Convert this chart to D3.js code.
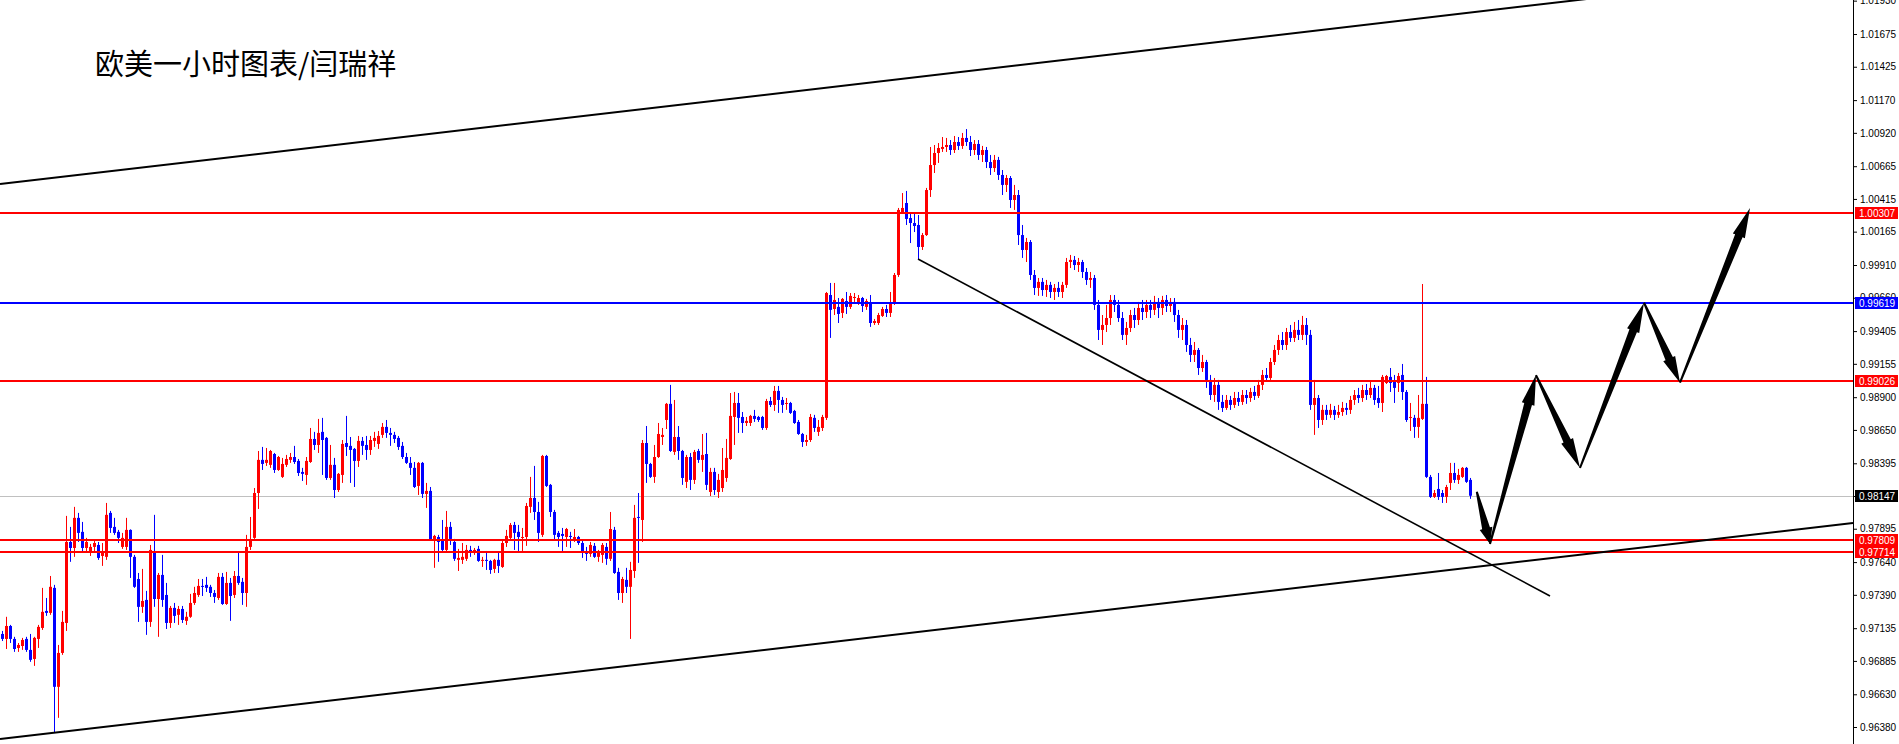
<!DOCTYPE html>
<html><head><meta charset="utf-8">
<script src="https://cdn.jsdelivr.net/npm/d3@7"></script>
<style>html,body{margin:0;padding:0;background:#fff;overflow:hidden}</style>
</head><body>
<svg id="c" width="1899" height="744"></svg>
<script>
const title = "欧美一小时图表/闫瑞祥";

const opens = [
0.97091,0.97053,0.97152,0.97053,0.96984,0.96999,0.97053,0.96969,0.96900,0.97053,
0.97137,0.97267,0.97252,0.97443,0.96687,0.96946,0.97175,0.97794,0.97748,0.97978,
0.97871,0.97748,0.97718,0.97756,0.97771,0.97687,0.97680,0.98016,0.97909,0.97871,
0.97756,0.97756,0.97886,0.97680,0.97511,0.97298,0.97351,0.97183,0.97725,0.97358,
0.97542,0.97389,0.97175,0.97290,0.97237,0.97282,0.97191,0.97222,0.97328,0.97389,
0.97458,0.97466,0.97451,0.97404,0.97366,0.97527,0.97320,0.97481,0.97389,0.97534,
0.97489,0.97404,0.97756,0.97825,0.98168,0.98421,0.98398,0.98383,0.98466,0.98344,
0.98291,0.98383,0.98421,0.98443,0.98413,0.98329,0.98306,0.98405,0.98581,0.98535,
0.98635,0.98589,0.98283,0.98383,0.98191,0.98306,0.98550,0.98528,0.98505,0.98413,
0.98566,0.98535,0.98497,0.98566,0.98543,0.98612,0.98673,0.98627,0.98612,0.98589,
0.98528,0.98443,0.98398,0.98360,0.98222,0.98398,0.98161,0.98184,0.97809,0.97832,
0.97802,0.97733,0.97909,0.97794,0.97657,0.97657,0.97665,0.97733,0.97710,0.97741,
0.97649,0.97657,0.97649,0.97588,0.97657,0.97603,0.97786,0.97825,0.97924,0.97871,
0.97825,0.97832,0.98062,0.98130,0.98023,0.97848,0.98451,0.98230,0.98023,0.97863,
0.97855,0.97832,0.97840,0.97809,0.97832,0.97786,0.97725,0.97703,0.97764,0.97680,
0.97695,0.97756,0.97665,0.97886,0.97565,0.97404,0.97504,0.97451,0.97572,0.97985,
0.97962,0.98550,0.98390,0.98291,0.98443,0.98596,0.98726,0.98849,0.98482,0.98596,
0.98489,0.98253,0.98443,0.98268,0.98489,0.98421,0.98466,0.98176,0.98329,0.98176,
0.98206,0.98283,0.98428,0.98749,0.98856,0.98749,0.98703,0.98703,0.98757,0.98749,
0.98749,0.98665,0.98871,0.98841,0.98948,0.98879,0.98849,0.98856,0.98795,0.98711,
0.98619,0.98558,0.98573,0.98742,0.98635,0.98665,0.98742,0.99681,0.99574,0.99590,
0.99544,0.99635,0.99590,0.99658,0.99620,0.99658,0.99590,0.99620,0.99467,0.99467,
0.99521,0.99574,0.99544,0.99620,0.99834,1.00315,1.00384,1.00269,1.00231,1.00216,
1.00048,1.00139,1.00483,1.00674,1.00766,1.00797,1.00812,1.00827,1.00789,1.00850,
1.00820,1.00881,1.00850,1.00789,1.00835,1.00751,1.00789,1.00697,1.00651,1.00713,
1.00598,1.00522,1.00575,1.00407,1.00445,1.00139,1.00025,1.00086,0.99834,0.99735,
0.99781,0.99719,0.99758,0.99704,0.99735,0.99704,0.99758,0.99933,0.99949,0.99910,
0.99933,0.99857,0.99796,0.99811,0.99605,0.99414,0.99452,0.99505,0.99643,0.99605,
0.99505,0.99376,0.99429,0.99528,0.99490,0.99582,0.99551,0.99605,0.99567,0.99628,
0.99582,0.99643,0.99597,0.99628,0.99528,0.99414,0.99452,0.99299,0.99223,0.99261,
0.99123,0.99169,0.99032,0.98917,0.98994,0.98864,0.98818,0.98879,0.98841,0.98894,
0.98864,0.98917,0.98894,0.98940,0.98910,0.98994,0.99070,0.99047,0.99169,0.99261,
0.99337,0.99299,0.99398,0.99353,0.99414,0.99376,0.99452,0.99376,0.98841,0.98894,
0.98726,0.98803,0.98765,0.98803,0.98765,0.98787,0.98818,0.98803,0.98879,0.98917,
0.98894,0.98955,0.98917,0.98971,0.98894,0.98856,0.99009,0.99055,0.99017,0.99009,
0.99070,0.98940,0.98742,0.98742,0.98673,0.98734,0.98849,0.98291,0.98138,0.98199,
0.98168,0.98138,0.98245,0.98321,0.98268,0.98291,0.98360,0.98268];

const highs = [
0.97114,0.97222,0.97160,0.97069,0.97022,0.97061,0.97069,0.97091,0.97069,0.97160,
0.97443,0.97366,0.97534,0.97466,0.97007,0.97267,0.97993,0.97909,0.98062,0.98016,
0.97947,0.97825,0.97779,0.97809,0.97794,0.97786,0.98092,0.98031,0.97978,0.97886,
0.97863,0.97978,0.97890,0.97695,0.97557,0.97588,0.97420,0.97771,0.98001,0.97557,
0.97695,0.97481,0.97305,0.97328,0.97305,0.97305,0.97260,0.97397,0.97451,0.97511,
0.97511,0.97527,0.97466,0.97427,0.97557,0.97557,0.97565,0.97519,0.97572,0.97718,
0.97519,0.97848,0.97985,0.98206,0.98489,0.98520,0.98512,0.98497,0.98474,0.98451,
0.98436,0.98459,0.98474,0.98528,0.98428,0.98360,0.98443,0.98665,0.98635,0.98734,
0.98742,0.98596,0.98535,0.98436,0.98321,0.98573,0.98757,0.98596,0.98512,0.98604,
0.98596,0.98604,0.98604,0.98635,0.98642,0.98703,0.98726,0.98665,0.98635,0.98604,
0.98558,0.98474,0.98443,0.98405,0.98405,0.98405,0.98245,0.98214,0.97848,0.97848,
0.97962,0.98031,0.97947,0.97817,0.97741,0.97786,0.97771,0.97764,0.97748,0.97764,
0.97680,0.97725,0.97657,0.97665,0.97710,0.97809,0.97886,0.97939,0.97947,0.97924,
0.97901,0.98092,0.98291,0.98375,0.98100,0.98459,0.98459,0.98237,0.98039,0.97878,
0.97901,0.97901,0.97871,0.97893,0.97840,0.97802,0.97756,0.97794,0.97786,0.97733,
0.97786,0.97786,0.98023,0.97909,0.97596,0.97527,0.97596,0.97642,0.98077,0.98168,
0.98573,0.98680,0.98398,0.98535,0.98703,0.98665,0.98856,0.98994,0.98879,0.98680,
0.98497,0.98459,0.98474,0.98497,0.98505,0.98619,0.98627,0.98360,0.98360,0.98314,
0.98512,0.98581,0.98932,0.98940,0.98932,0.98787,0.98749,0.98765,0.98803,0.98757,
0.98757,0.98887,0.98902,0.98986,0.98986,0.98902,0.98894,0.98864,0.98803,0.98726,
0.98627,0.98612,0.98772,0.98765,0.98726,0.98765,0.99704,0.99773,0.99773,0.99658,
0.99658,0.99704,0.99696,0.99696,0.99681,0.99666,0.99651,0.99681,0.99498,0.99544,
0.99590,0.99605,0.99704,0.99849,1.00346,1.00460,1.00476,1.00308,1.00308,1.00292,
1.00155,1.00499,1.00812,1.00827,1.00842,1.00888,1.00881,1.00865,1.00896,1.00888,
1.00919,1.00949,1.00896,1.00865,1.00865,1.00820,1.00812,1.00751,1.00751,1.00736,
1.00636,1.00598,1.00590,1.00522,1.00483,1.00216,1.00117,1.00101,0.99872,0.99811,
0.99811,0.99796,0.99781,0.99765,0.99781,0.99781,0.99964,0.99987,0.99979,0.99964,
0.99949,0.99887,0.99857,0.99834,0.99643,0.99528,0.99605,0.99681,0.99681,0.99643,
0.99551,0.99475,0.99567,0.99582,0.99628,0.99643,0.99643,0.99643,0.99674,0.99658,
0.99674,0.99681,0.99658,0.99658,0.99567,0.99505,0.99490,0.99353,0.99322,0.99276,
0.99223,0.99185,0.99070,0.99047,0.99032,0.98917,0.98917,0.98910,0.98940,0.98940,
0.98955,0.98955,0.98971,0.98986,0.99032,0.99108,0.99123,0.99200,0.99299,0.99376,
0.99398,0.99429,0.99452,0.99475,0.99490,0.99521,0.99505,0.99414,0.99032,0.98917,
0.98841,0.98841,0.98849,0.98833,0.98841,0.98864,0.98856,0.98910,0.98955,0.98971,
0.98994,0.99001,0.99017,0.98994,0.98986,0.99070,0.99070,0.99123,0.99070,0.99085,
0.99154,0.98955,0.98856,0.98765,0.98917,0.99765,0.99055,0.98306,0.98191,0.98321,
0.98191,0.98230,0.98398,0.98398,0.98352,0.98367,0.98367,0.98283];

const lows = [
0.97037,0.96976,0.97022,0.96954,0.96954,0.96969,0.96954,0.96878,0.96847,0.96984,
0.97122,0.97229,0.97237,0.96335,0.96450,0.96931,0.97114,0.97642,0.97680,0.97794,
0.97710,0.97718,0.97687,0.97710,0.97657,0.97611,0.97657,0.97863,0.97848,0.97786,
0.97741,0.97733,0.97519,0.97443,0.97183,0.97252,0.97084,0.97145,0.97298,0.97069,
0.97298,0.97129,0.97137,0.97175,0.97160,0.97175,0.97160,0.97214,0.97313,0.97374,
0.97381,0.97412,0.97374,0.97328,0.97351,0.97313,0.97313,0.97191,0.97366,0.97466,
0.97313,0.97298,0.97733,0.97817,0.98046,0.98344,0.98375,0.98360,0.98321,0.98337,
0.98283,0.98367,0.98398,0.98390,0.98298,0.98260,0.98230,0.98398,0.98497,0.98474,
0.98306,0.98268,0.98268,0.98130,0.98176,0.98245,0.98451,0.98245,0.98214,0.98367,
0.98459,0.98421,0.98459,0.98520,0.98505,0.98589,0.98589,0.98528,0.98550,0.98497,
0.98428,0.98390,0.98306,0.98206,0.98153,0.98130,0.98054,0.97802,0.97596,0.97642,
0.97718,0.97718,0.97771,0.97649,0.97572,0.97626,0.97649,0.97680,0.97695,0.97642,
0.97603,0.97580,0.97550,0.97557,0.97557,0.97596,0.97756,0.97809,0.97733,0.97718,
0.97725,0.97764,0.98016,0.97962,0.97794,0.97832,0.98214,0.97985,0.97809,0.97756,
0.97718,0.97756,0.97748,0.97794,0.97771,0.97672,0.97649,0.97680,0.97672,0.97642,
0.97634,0.97619,0.97649,0.97550,0.97351,0.97328,0.97404,0.97053,0.97519,0.97634,
0.97794,0.98245,0.98283,0.98245,0.98436,0.98535,0.98657,0.98482,0.98459,0.98421,
0.98230,0.98206,0.98191,0.98237,0.98398,0.98329,0.98191,0.98145,0.98153,0.98130,
0.98176,0.98253,0.98421,0.98535,0.98627,0.98627,0.98680,0.98680,0.98711,0.98711,
0.98650,0.98650,0.98825,0.98795,0.98780,0.98780,0.98803,0.98772,0.98696,0.98612,
0.98520,0.98528,0.98558,0.98635,0.98604,0.98642,0.98726,0.99353,0.99528,0.99467,
0.99505,0.99536,0.99574,0.99628,0.99605,0.99551,0.99567,0.99437,0.99452,0.99452,
0.99513,0.99513,0.99513,0.99605,0.99819,1.00308,1.00216,1.00078,1.00162,0.99956,
1.00025,1.00132,1.00430,1.00613,1.00690,1.00774,1.00774,1.00751,1.00766,1.00789,
1.00797,1.00820,1.00743,1.00751,1.00713,1.00697,1.00651,1.00598,1.00621,1.00560,
1.00445,1.00468,1.00346,1.00331,1.00063,0.99964,0.99933,0.99796,0.99681,0.99674,
0.99674,0.99666,0.99658,0.99643,0.99666,0.99658,0.99735,0.99887,0.99872,0.99857,
0.99811,0.99758,0.99735,0.99567,0.99337,0.99299,0.99398,0.99452,0.99551,0.99475,
0.99337,0.99299,0.99398,0.99429,0.99452,0.99490,0.99505,0.99505,0.99528,0.99505,
0.99528,0.99551,0.99551,0.99475,0.99353,0.99337,0.99246,0.99169,0.99169,0.99070,
0.99093,0.98971,0.98879,0.98864,0.98803,0.98787,0.98803,0.98803,0.98818,0.98833,
0.98841,0.98849,0.98864,0.98879,0.98894,0.98955,0.99017,0.99032,0.99146,0.99223,
0.99261,0.99261,0.99322,0.99322,0.99337,0.99337,0.99299,0.98803,0.98612,0.98665,
0.98688,0.98726,0.98742,0.98726,0.98742,0.98757,0.98765,0.98772,0.98841,0.98856,
0.98864,0.98879,0.98894,0.98841,0.98818,0.98787,0.99001,0.98940,0.98856,0.98940,
0.98879,0.98711,0.98642,0.98589,0.98589,0.98726,0.98283,0.98130,0.98130,0.98115,
0.98092,0.98092,0.98191,0.98245,0.98237,0.98283,0.98245,0.98123];

const closes = [
0.97053,0.97152,0.97053,0.96976,0.97007,0.97045,0.96969,0.96893,0.97061,0.97145,
0.97260,0.97252,0.97451,0.96687,0.96946,0.97183,0.97794,0.97748,0.97978,0.97863,
0.97748,0.97794,0.97756,0.97786,0.97672,0.97718,0.98001,0.97901,0.97863,0.97825,
0.97825,0.97886,0.97680,0.97451,0.97298,0.97343,0.97183,0.97733,0.97358,0.97542,
0.97351,0.97175,0.97290,0.97229,0.97282,0.97198,0.97222,0.97328,0.97404,0.97458,
0.97451,0.97443,0.97404,0.97374,0.97527,0.97320,0.97481,0.97381,0.97534,0.97481,
0.97404,0.97756,0.97809,0.98168,0.98421,0.98390,0.98421,0.98489,0.98344,0.98443,
0.98390,0.98428,0.98443,0.98405,0.98321,0.98314,0.98413,0.98581,0.98535,0.98627,
0.98573,0.98283,0.98383,0.98191,0.98314,0.98543,0.98520,0.98497,0.98413,0.98566,
0.98528,0.98497,0.98573,0.98589,0.98604,0.98673,0.98627,0.98612,0.98581,0.98520,
0.98443,0.98398,0.98360,0.98214,0.98398,0.98161,0.98184,0.97809,0.97840,0.97794,
0.97733,0.97909,0.97817,0.97665,0.97672,0.97680,0.97733,0.97710,0.97733,0.97649,
0.97657,0.97649,0.97580,0.97657,0.97611,0.97786,0.97840,0.97924,0.97863,0.97832,
0.97832,0.98069,0.98130,0.98023,0.97863,0.98451,0.98222,0.98023,0.97848,0.97832,
0.97840,0.97893,0.97832,0.97832,0.97786,0.97710,0.97703,0.97771,0.97680,0.97718,
0.97771,0.97665,0.97893,0.97557,0.97404,0.97511,0.97451,0.97580,0.97978,0.97978,
0.98550,0.98390,0.98291,0.98443,0.98619,0.98612,0.98849,0.98489,0.98596,0.98489,
0.98283,0.98443,0.98268,0.98482,0.98421,0.98459,0.98230,0.98329,0.98191,0.98268,
0.98344,0.98436,0.98757,0.98856,0.98742,0.98703,0.98719,0.98757,0.98734,0.98726,
0.98665,0.98871,0.98841,0.98948,0.98879,0.98841,0.98856,0.98780,0.98703,0.98619,
0.98558,0.98573,0.98749,0.98665,0.98673,0.98749,0.99696,0.99567,0.99643,0.99536,
0.99651,0.99590,0.99674,0.99666,0.99658,0.99597,0.99635,0.99467,0.99482,0.99528,
0.99574,0.99544,0.99620,0.99834,1.00331,1.00346,1.00262,1.00231,1.00208,1.00048,
1.00139,1.00483,1.00674,1.00766,1.00804,1.00812,1.00827,1.00789,1.00850,1.00820,
1.00881,1.00850,1.00789,1.00835,1.00751,1.00789,1.00697,1.00651,1.00713,1.00598,
1.00522,1.00575,1.00407,1.00445,1.00139,1.00025,1.00086,0.99834,0.99735,0.99781,
0.99719,0.99758,0.99704,0.99735,0.99704,0.99758,0.99933,0.99949,0.99910,0.99933,
0.99857,0.99796,0.99811,0.99605,0.99414,0.99452,0.99505,0.99643,0.99605,0.99505,
0.99376,0.99429,0.99528,0.99490,0.99582,0.99551,0.99605,0.99567,0.99628,0.99582,
0.99643,0.99597,0.99628,0.99528,0.99414,0.99452,0.99299,0.99223,0.99261,0.99123,
0.99169,0.99032,0.98917,0.98994,0.98864,0.98818,0.98879,0.98841,0.98894,0.98864,
0.98917,0.98894,0.98940,0.98910,0.98994,0.99070,0.99047,0.99169,0.99261,0.99337,
0.99299,0.99398,0.99353,0.99414,0.99376,0.99452,0.99376,0.98841,0.98894,0.98726,
0.98803,0.98765,0.98803,0.98765,0.98787,0.98818,0.98803,0.98879,0.98917,0.98894,
0.98955,0.98917,0.98971,0.98879,0.98856,0.99055,0.99062,0.99009,0.98971,0.99062,
0.98940,0.98726,0.98749,0.98673,0.98742,0.98849,0.98291,0.98138,0.98168,0.98138,
0.98138,0.98214,0.98321,0.98268,0.98306,0.98360,0.98253,0.98147];

const tickValues = [1.01930,1.01675,1.01425,1.01170,1.00920,1.00665,1.00415,1.00165,
  0.99910,0.99660,0.99405,0.99155,0.98900,0.98650,0.98395,0.98145,0.97895,0.97640,
  0.97390,0.97135,0.96885,0.96630,0.96380];

const redLevels = [1.00307, 0.99026, 0.97809, 0.97714];
const blueLevels = [0.99619];
const currentPrice = 0.98147;

// trend lines as [bar index, price]
const channelLower = [[-0.5, 0.96288], [462.75, 0.97939]];
const channelUpper = [[-0.5, 1.00529], [462.75, 1.02180]];
const downTrend = [[229, 0.99956], [387, 0.97381]];
// forecast zig-zag as [bar index, price]
const forecastPath = [[368.7, 0.98178], [372, 0.97778], [383.5, 0.99069], [394.5, 0.98359],
  [410.5, 0.99622], [419.5, 0.99011], [437, 1.00346]];

// ---------------- drawing ----------------
const W = 1899, H = 744, axisX = 1853;
const RED = "#ff0000", BLUE = "#0000ff";
const x = d3.scaleLinear().domain([0, 367]).range([2, 1470]);
const y = d3.scaleLinear().domain([0.9638, 1.01935]).range([727, 0]);

const svg = d3.select("#c");
svg.append("rect").attr("width", W).attr("height", H).attr("fill", "#fff");
svg.append("defs").append("clipPath").attr("id", "plot")
  .append("rect").attr("x", 0).attr("y", 0).attr("width", axisX).attr("height", H);
const plot = svg.append("g").attr("clip-path", "url(#plot)");

// current price line (behind candles)
plot.append("line")
  .attr("x1", 0).attr("x2", axisX)
  .attr("y1", Math.round(y(currentPrice)) + 0.5).attr("y2", Math.round(y(currentPrice)) + 0.5)
  .attr("stroke", "#c0c0c0").attr("stroke-width", 1);

// candles
const bars = d3.range(closes.length).map(i => ({i, o: opens[i], h: highs[i], l: lows[i], c: closes[i]}));
const cg = plot.append("g");
cg.selectAll("line.wick").data(bars).join("line").attr("class", "wick")
  .attr("x1", d => Math.round(x(d.i)) + 0.5).attr("x2", d => Math.round(x(d.i)) + 0.5)
  .attr("y1", d => y(d.h)).attr("y2", d => y(d.l))
  .attr("stroke", d => d.c >= d.o ? RED : BLUE).attr("stroke-width", 1);
cg.selectAll("rect.body").data(bars).join("rect").attr("class", "body")
  .attr("x", d => Math.round(x(d.i)) - 1)
  .attr("y", d => y(Math.max(d.o, d.c)))
  .attr("width", 3)
  .attr("height", d => Math.max(1, y(Math.min(d.o, d.c)) - y(Math.max(d.o, d.c))))
  .attr("fill", d => d.c >= d.o ? RED : BLUE);

// horizontal levels
const lvl = plot.append("g");
lvl.selectAll("line.red").data(redLevels).join("line").attr("class", "red")
  .attr("x1", 0).attr("x2", axisX).attr("y1", d => Math.round(y(d))).attr("y2", d => Math.round(y(d)))
  .attr("stroke", RED).attr("stroke-width", 2);
lvl.selectAll("line.blue").data(blueLevels).join("line").attr("class", "blue")
  .attr("x1", 0).attr("x2", axisX).attr("y1", d => Math.round(y(d))).attr("y2", d => Math.round(y(d)))
  .attr("stroke", BLUE).attr("stroke-width", 2);

// trend lines
const line = d3.line().x(d => x(d[0])).y(d => y(d[1]));
plot.append("path").attr("d", line(channelUpper)).attr("stroke", "#000").attr("stroke-width", 2).attr("fill", "none");
plot.append("path").attr("d", line(channelLower)).attr("stroke", "#000").attr("stroke-width", 2).attr("fill", "none");
plot.append("path").attr("d", line(downTrend)).attr("stroke", "#000").attr("stroke-width", 1.6).attr("fill", "none");

// forecast arrows
const pts = forecastPath.map(d => [x(d[0]), y(d[1])]);
const ag = plot.append("g");
for (let k = 0; k < pts.length - 1; k++) {
  const A = pts[k], B = pts[k + 1];
  const dx = B[0] - A[0], dy = B[1] - A[1];
  const L = Math.hypot(dx, dy);
  const ux = dx / L, uy = dy / L, nx = -uy, ny = ux;
  const head = Math.min(30, L * 0.3);
  const M = [B[0] - ux * head, B[1] - uy * head];
  const P = (p, w) => [p[0] + nx * w, p[1] + ny * w];
  const poly = [P(A, 1), P(M, 4), P(M, 6.5), B, P(M, -6.5), P(M, -4), P(A, -1)];
  ag.append("polygon").attr("points", poly.map(p => p.join(",")).join(" ")).attr("fill", "#000");
}

// title
svg.append("text").attr("x", 95).attr("y", 62)
  .attr("dominant-baseline", "central")
  .attr("font-family", "'Noto Sans CJK SC', sans-serif")
  .attr("font-size", 29).attr("fill", "#000")
  .text(title);

// price axis
const axis = d3.axisRight(y).tickValues(tickValues).tickFormat(d3.format(".5f")).tickSize(4).tickPadding(3);
const axg = svg.append("g").attr("transform", `translate(${axisX},0)`).call(axis);
axg.select(".domain").remove();
axg.selectAll("text").attr("font-family", "'Liberation Sans', Arial, sans-serif").attr("font-size", 10).attr("fill", "#000");
axg.selectAll("line").attr("stroke", "#000");
svg.append("line").attr("x1", axisX + 0.5).attr("x2", axisX + 0.5).attr("y1", 0).attr("y2", H)
  .attr("stroke", "#000").attr("stroke-width", 1);

// level labels on axis
const labels = redLevels.map(v => ({v, c: RED}))
  .concat(blueLevels.map(v => ({v, c: BLUE})))
  .concat([{v: currentPrice, c: "#000"}]);
const lg = svg.append("g");
lg.selectAll("rect").data(labels).join("rect")
  .attr("x", axisX + 2).attr("y", d => Math.round(y(d.v)) - 6).attr("width", 43).attr("height", 12)
  .attr("fill", d => d.c);
lg.selectAll("text").data(labels).join("text")
  .attr("x", axisX + 6).attr("y", d => Math.round(y(d.v)) + 0.5)
  .attr("dominant-baseline", "central")
  .attr("font-family", "'Liberation Sans', Arial, sans-serif").attr("font-size", 10).attr("fill", "#fff")
  .text(d => d3.format(".5f")(d.v));
</script>
</body></html>
